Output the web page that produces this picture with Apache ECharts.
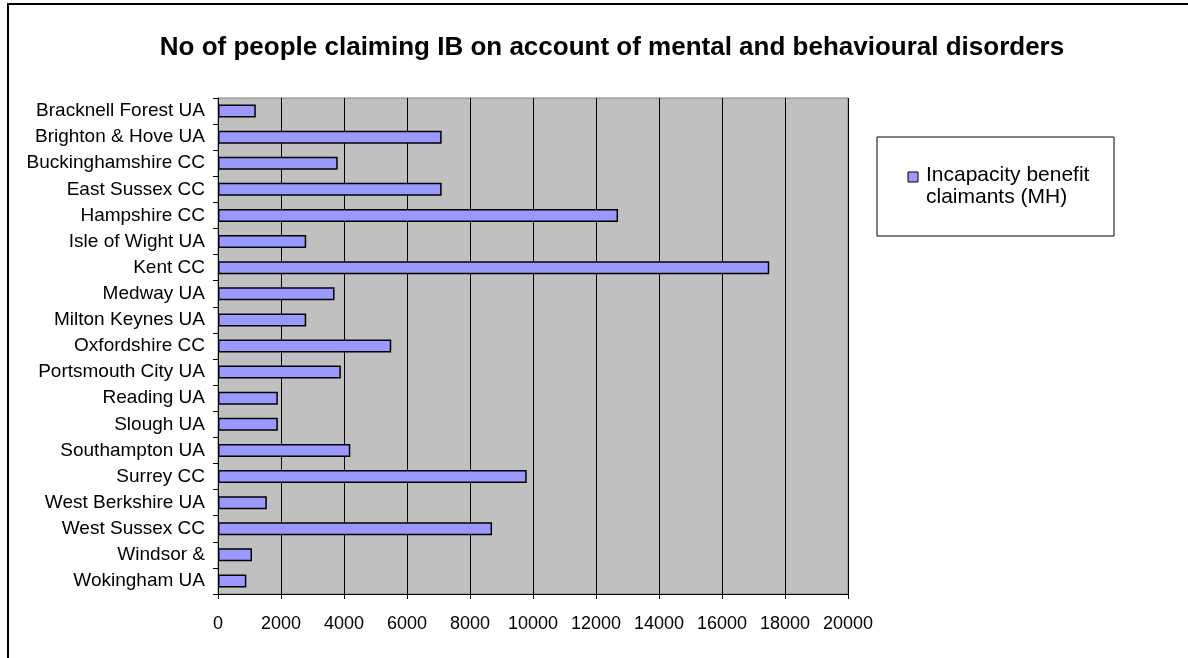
<!DOCTYPE html>
<html>
<head>
<meta charset="utf-8">
<script src="https://cdn.jsdelivr.net/npm/echarts@6/dist/echarts.min.js"></script>
<style>
  html, body { margin: 0; padding: 0; background: #fff; }
  #chart { width: 1188px; height: 658px; }
</style>
</head>
<body>
<div id="chart"></div>
<script>
// Local authorities, listed top to bottom
const categories = [
  'Bracknell Forest UA', 'Brighton & Hove UA', 'Buckinghamshire CC', 'East Sussex CC',
  'Hampshire CC', 'Isle of Wight UA', 'Kent CC', 'Medway UA', 'Milton Keynes UA',
  'Oxfordshire CC', 'Portsmouth City UA', 'Reading UA', 'Slough UA', 'Southampton UA',
  'Surrey CC', 'West Berkshire UA', 'West Sussex CC', 'Windsor &', 'Wokingham UA'
];

// Incapacity benefit claimants with mental and behavioural disorders
const claimants = [
  1200, 7100, 3800, 7100, 12700, 2800, 17500, 3700, 2800,
  5500, 3900, 1900, 1900, 4200, 9800, 1550, 8700, 1080, 900
];

const seriesName = 'Incapacity benefit claimants (MH)';
const legendLines = ['Incapacity benefit', 'claimants (MH)'];
const chartTitle = 'No of people claiming IB on account of mental and behavioural disorders';
const xTicks = { min: 0, max: 20000, interval: 2000 };

const FONT = 'Liberation Sans, Arial, sans-serif';
const chart = echarts.init(document.getElementById('chart'), null, { renderer: 'canvas' });

chart.setOption({
  animation: false,
  backgroundColor: '#ffffff',
  title: {
    text: chartTitle,
    left: 607,
    top: 30,
    textAlign: 'center',
    textStyle: { fontFamily: FONT, fontSize: 26, fontWeight: 'bold', color: '#000' }
  },
  graphic: [
    {
      // outer frame
      type: 'rect',
      shape: { x: 8, y: 4, width: 1300, height: 800 },
      style: { fill: 'none', stroke: '#000', lineWidth: 2 },
      silent: true, z: 100
    },
    {
      // legend box
      type: 'rect',
      shape: { x: 877, y: 137, width: 237, height: 99 },
      style: { fill: '#fff', stroke: '#000', lineWidth: 1 },
      silent: true, z: 1
    },
    {
      type: 'rect',
      shape: { x: 908, y: 172, width: 10, height: 10 },
      style: { fill: '#9999FF', stroke: '#000', lineWidth: 1 },
      silent: true, z: 2
    },
    {
      type: 'text',
      left: 926, top: 164,
      style: {
        text: legendLines.join('\n'),
        font: '21px ' + FONT, fill: '#000', lineHeight: 22, textAlign: 'left'
      },
      silent: true, z: 2
    }
  ],
  grid: { left: 218, top: 98, width: 630, height: 496, containLabel: false,
          show: true, backgroundColor: '#C0C0C0', borderColor: '#808080', borderWidth: 1 },
  xAxis: {
    type: 'value',
    min: xTicks.min, max: xTicks.max, interval: xTicks.interval,
    axisLine: { show: true, lineStyle: { color: '#000', width: 1 } },
    axisTick: { show: true, length: 5, lineStyle: { color: '#000' } },
    axisLabel: { fontFamily: FONT, fontSize: 18, color: '#000', margin: 21,
                 formatter: v => String(v) },
    splitLine: { show: true, lineStyle: { color: '#000', width: 1 } }
  },
  yAxis: {
    type: 'category',
    data: categories,
    inverse: true,
    axisLine: { show: true, lineStyle: { color: '#000', width: 1 } },
    axisTick: { show: true, length: 5, lineStyle: { color: '#000' } },
    axisLabel: { fontFamily: FONT, fontSize: 19, color: '#000', margin: 13 },
    splitLine: { show: false }
  },
  series: [{
    name: seriesName,
    type: 'bar',
    data: claimants,
    barWidth: 13,
    itemStyle: { color: '#9999FF', borderColor: '#000', borderWidth: 1.5 }
  }]
});
</script>
</body>
</html>
